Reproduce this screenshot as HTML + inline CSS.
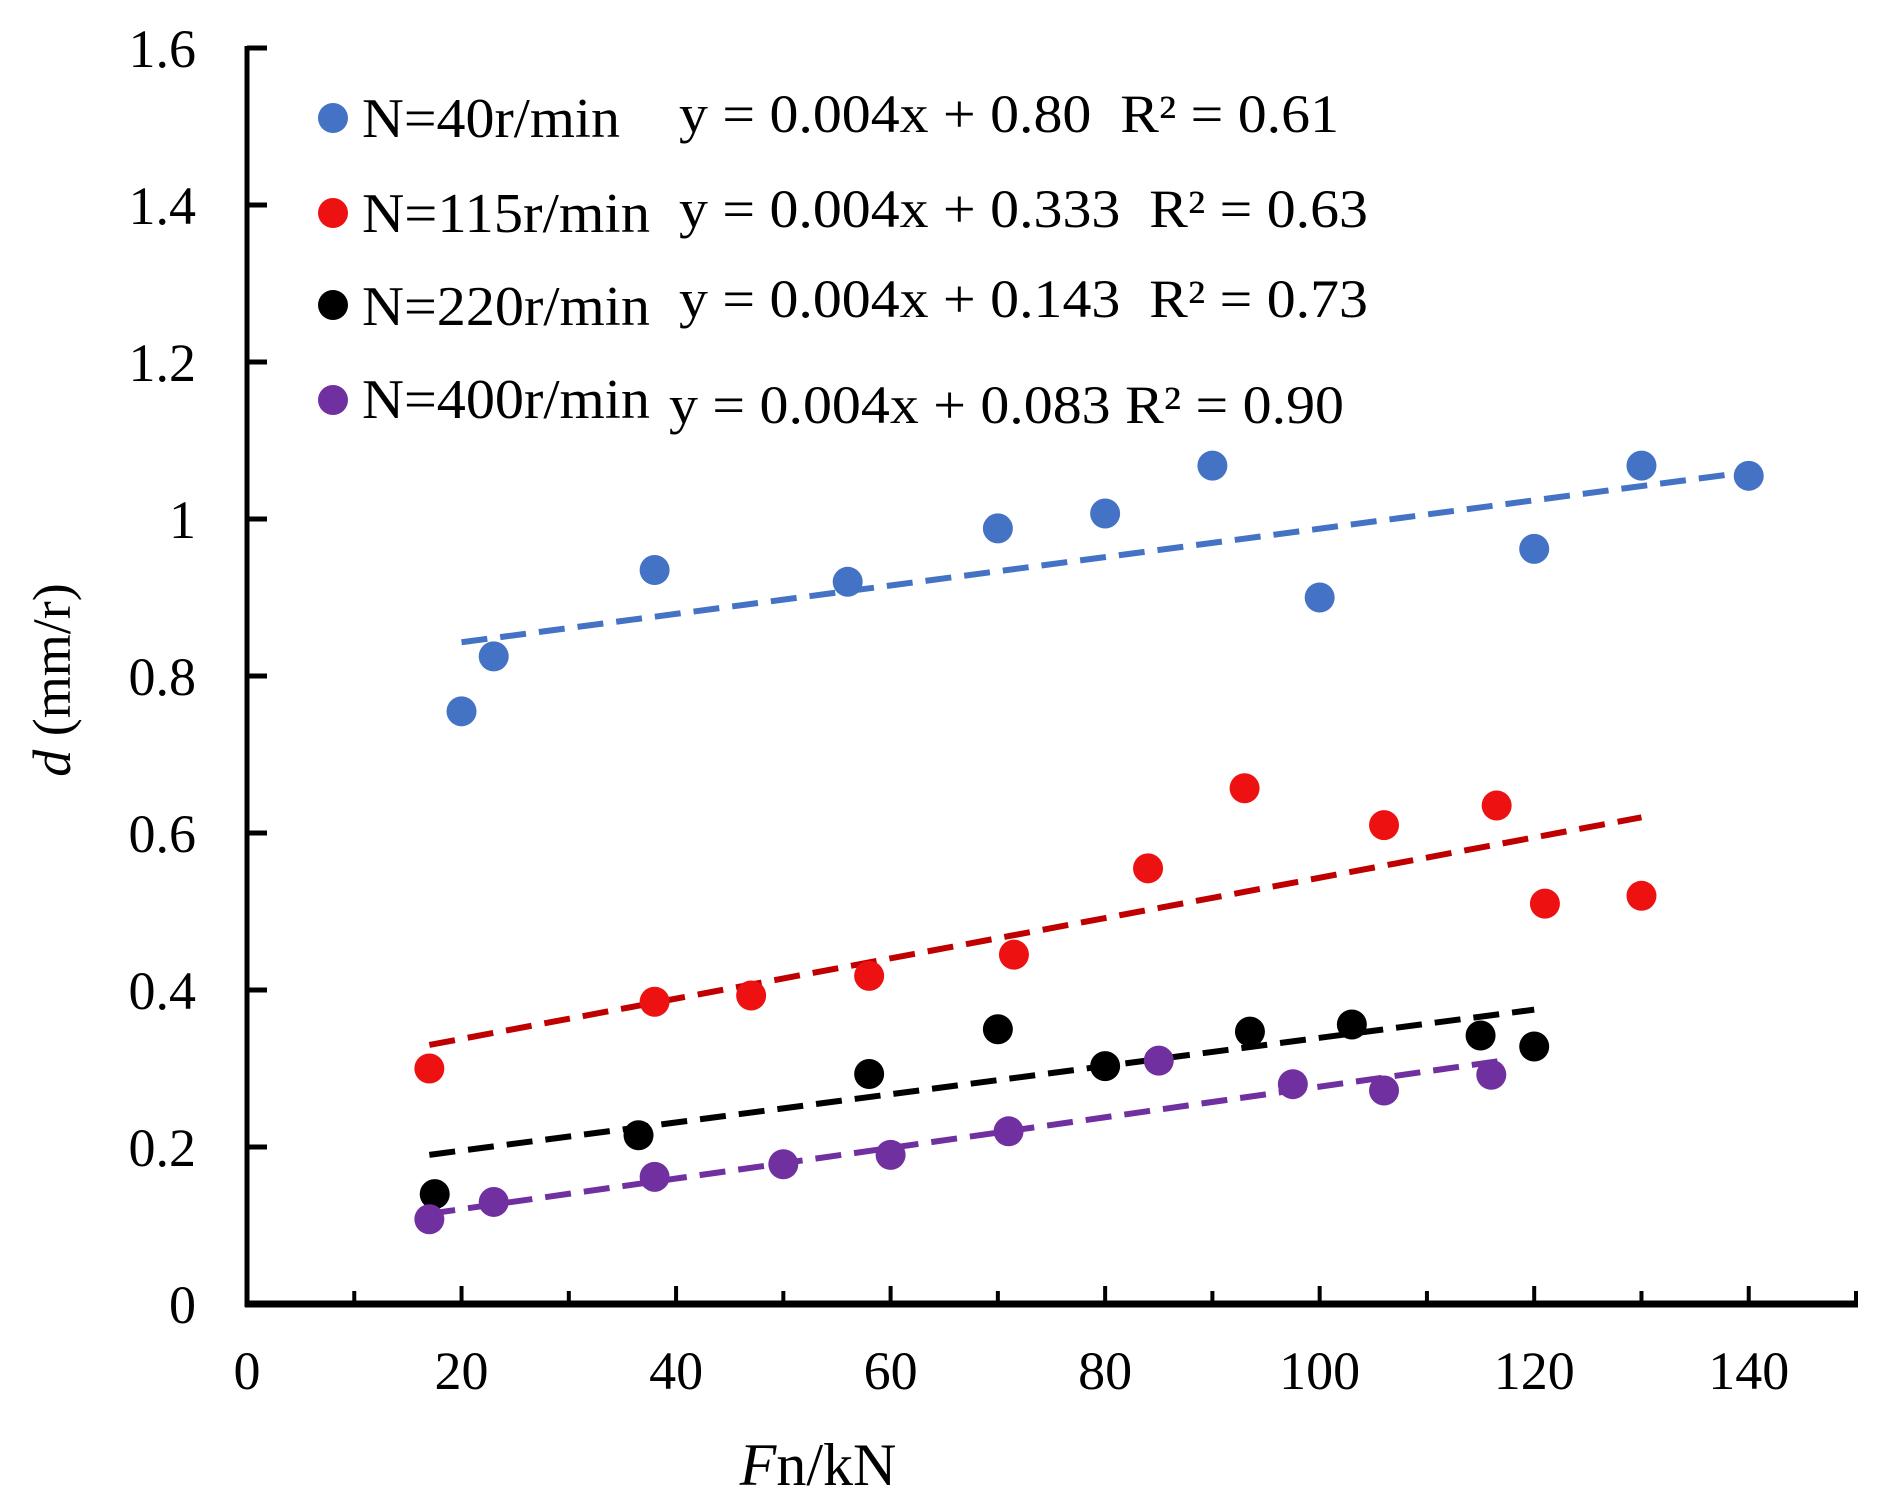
<!DOCTYPE html>
<html><head><meta charset="utf-8"><style>
html,body{margin:0;padding:0;background:#fff}
svg{display:block;font-family:"Liberation Serif",serif}
</style></head><body>
<svg id="chart" width="1877" height="1510" viewBox="0 0 1877 1510" xmlns="http://www.w3.org/2000/svg">
<g id="axes"></g>
<g id="series"></g>
<g id="legend"></g>
<text transform="translate(70,680) rotate(-90)" text-anchor="middle" font-size="54"><tspan font-style="italic">d</tspan> (mm/r)</text>
<text x="818" y="1485" text-anchor="middle" font-size="60"><tspan font-style="italic">F</tspan>n/kN</text>
</svg>
<script>
const xTicks=[0,20,40,60,80,100,120,140];
const yTicks=[0,0.2,0.4,0.6,0.8,1,1.2,1.4,1.6];
const yTickLabels=["0","0.2","0.4","0.6","0.8","1","1.2","1.4","1.6"];
const seriesNames=["N=40r/min","N=115r/min","N=220r/min","N=400r/min"];
const equations=["y = 0.004x + 0.80  R² = 0.61","y = 0.004x + 0.333  R² = 0.63","y = 0.004x + 0.143  R² = 0.73","y = 0.004x + 0.083 R² = 0.90"];
const blueX=[20,23,38,56,70,80,90,100,120,130,140];
const blueY=[0.755,0.825,0.935,0.92,0.988,1.007,1.068,0.9,0.962,1.068,1.055];
const redX=[17,38,47,58,71.5,84,93,106,116.5,121,130];
const redY=[0.30,0.385,0.393,0.418,0.445,0.555,0.657,0.61,0.635,0.51,0.52];
const blackX=[17.5,36.5,58,70,80,93.5,103,115,120];
const blackY=[0.14,0.215,0.293,0.35,0.303,0.347,0.356,0.342,0.328];
const purpleX=[17,23,38,50,60,71,85,97.5,106,116];
const purpleY=[0.108,0.13,0.162,0.178,0.19,0.22,0.31,0.28,0.272,0.292];
const trendX=[[20,140],[17,130],[17,120],[17,117]];
const trendY=[[0.843,1.06],[0.33,0.62],[0.19,0.375],[0.115,0.31]];

const NS="http://www.w3.org/2000/svg";
const X0=247,X1=1856,XMAX=150,Y0=1304,Y1=48,YMAX=1.6;
const sx=v=>X0+(X1-X0)*v/XMAX;
const sy=v=>Y0-(Y0-Y1)*v/YMAX;
function mk(tag,parent,attrs){const e=document.createElementNS(NS,tag);for(const k in attrs)e.setAttribute(k,attrs[k]);parent.appendChild(e);return e;}
const axes=document.getElementById('axes');
const series=document.getElementById('series');
const legend=document.getElementById('legend');

let l=mk('line',axes,{x1:X0,y1:Y1-2,x2:X0,y2:Y0+3,stroke:'#000','stroke-width':5});


l=mk('line',axes,{x1:X0-2,y1:Y0,x2:X1+2,y2:Y0,stroke:'#000','stroke-width':7});


for(let v=10;v<=150;v+=10){
  const major=v%20===0;
  const t=mk('line',axes,{x1:sx(v),y1:Y0,x2:sx(v),y2:Y0-(major?18:13),stroke:'#000','stroke-width':4});
  
  
}
xTicks.forEach(v=>{
  const t=mk('text',axes,{x:sx(v),y:1389,'text-anchor':'middle','font-size':54});
  t.textContent=String(v);
  
  
});
yTicks.forEach((v,i)=>{
  if(v>0){const t=mk('line',axes,{x1:X0,y1:sy(v),x2:X0+20,y2:sy(v),stroke:'#000','stroke-width':5});
  
  }
  const tx=mk('text',axes,{x:196,y:sy(v)+19,'text-anchor':'end','font-size':54});
  tx.textContent=yTickLabels[i];
  
  
});
const colors=['#4472c4','#ee1111','#000000','#7030a0'];
const lineColors=['#4472c4','#c00000','#000000','#7030a0'];
const allX=[blueX,redX,blackX,purpleX],allY=[blueY,redY,blackY,purpleY];
const names=['blue','red','black','purple'];
for(let s=0;s<4;s++){
  const g=mk('g',series,{});
  
  
  const tl=mk('line',g,{x1:sx(trendX[s][0]),y1:sy(trendY[s][0]),x2:sx(trendX[s][1]),y2:sy(trendY[s][1]),stroke:lineColors[s],'stroke-width':6,'stroke-dasharray':'26 13'});
  
  
  allX[s].forEach((x,i)=>{
    const c=mk('circle',g,{cx:sx(x),cy:sy(allY[s][i]),r:15,fill:colors[s]});
    
    
  });
}
const legY=[118,213,305,400],legBase=[137,232,325,418],legW=[258,288,288,288],eqBase=[132,227,317,423],eqX=[679,679,679,669],eqW=[660,689,689,675];
for(let s=0;s<4;s++){
  const c=mk('circle',legend,{cx:333,cy:legY[s],r:15,fill:colors[s]});
  
  
  const t=mk('text',legend,{x:362,y:legBase[s],'font-size':56,textLength:legW[s],lengthAdjust:'spacingAndGlyphs'});
  t.textContent=seriesNames[s];
  
  
  const e=mk('text',legend,{x:eqX[s],y:eqBase[s],'font-size':54,textLength:eqW[s],lengthAdjust:'spacingAndGlyphs',style:'white-space:pre'});
  e.textContent=equations[s];
  
  
}
</script>
</body></html>
